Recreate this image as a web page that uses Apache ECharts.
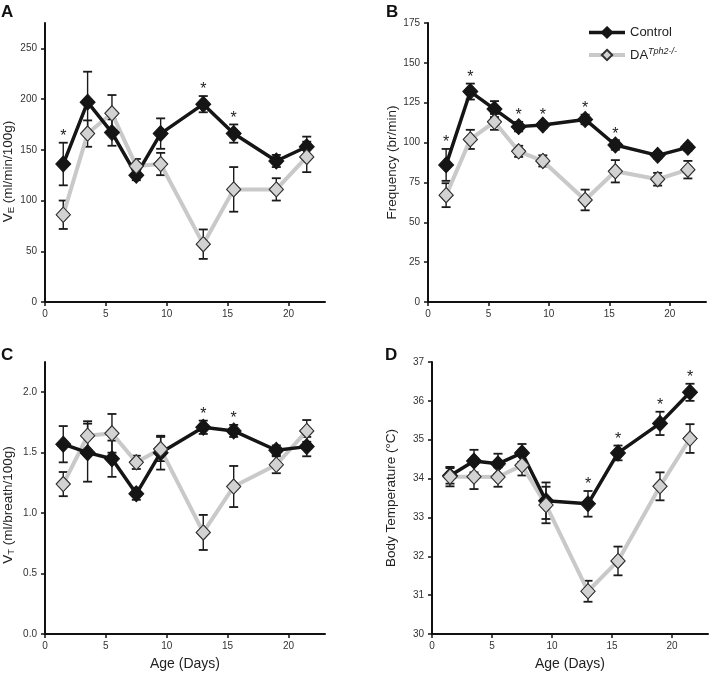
<!DOCTYPE html>
<html><head><meta charset="utf-8">
<script src="https://cdn.jsdelivr.net/npm/echarts@6/dist/echarts.min.js"></script>
<style>html,body{margin:0;padding:0;background:#fff}#c{width:710px;height:676px}</style>
</head><body><div id="c"></div><script>
const days = [1.5, 3.5, 5.5, 7.5, 9.5, 13, 15.5, 19, 21.5];
const xTicks = [0, 5, 10, 15, 20];

// A: minute ventilation
const veCtrl = [136, 197, 167, 125, 166, 195, 166, 139, 153];
const veCtrlSE = [21, 30, 13, 5, 15, 8, 9, 6, 10];
const veKO = [86, 166, 186, 134, 136, 57, 111, 111, 143];
const veKOSE = [14, 13, 18, 7, 11, 14.5, 22, 11, 15];
const veSig = [1, 0, 0, 0, 0, 1, 1, 0, 0];
const veTicks = [0, 50, 100, 150, 200, 250];

// B: frequency
const fCtrl = [86, 132, 121, 110, 111, 114.5, 98.5, 92, 97];
const fCtrlSE = [10, 5, 5, 3, 2, 3, 3, 2, 2];
const fKO = [67, 102, 113, 94.5, 88.5, 64, 82, 77, 83];
const fKOSE = [7.5, 6, 5, 3.5, 3.5, 6.5, 7, 4, 5.5];
const fSig = [1, 1, 0, 1, 1, 1, 1, 0, 0];
const fTicks = [0, 25, 50, 75, 100, 125, 150, 175];

// C: tidal volume
const vtCtrl = [1.57, 1.50, 1.45, 1.16, 1.50, 1.71, 1.68, 1.52, 1.55];
const vtCtrlSE = [0.15, 0.24, 0.15, 0.05, 0.14, 0.055, 0.05, 0.04, 0.08];
const vtKO = [1.24, 1.64, 1.66, 1.42, 1.53, 0.84, 1.22, 1.40, 1.68];
const vtKOSE = [0.10, 0.12, 0.16, 0.055, 0.10, 0.145, 0.17, 0.07, 0.09];
const vtSig = [0, 0, 0, 0, 0, 1, 1, 0, 0];
const vtTicks = [0, 0.5, 1, 1.5, 2];

// D: body temperature
const tCtrl = [34.07, 34.45, 34.38, 34.66, 33.43, 33.35, 34.66, 35.42, 36.22];
const tCtrlSE = [0.2, 0.29, 0.26, 0.23, 0.47, 0.33, 0.19, 0.3, 0.22];
const tKO = [34.05, 34.05, 34.04, 34.34, 33.32, 31.10, 31.88, 33.80, 35.03];
const tKOSE = [0.25, 0.32, 0.25, 0.26, 0.47, 0.27, 0.37, 0.36, 0.37];
const tSig = [0, 0, 0, 0, 0, 1, 1, 1, 1];
const tTicks = [30, 31, 32, 33, 34, 35, 36, 37];

const FONT = '"Liberation Sans", Arial, Helvetica, sans-serif';
const nameRich = {
  m: {fontSize: 13.5, lineHeight: 16, fontFamily: FONT, color: '#222'},
  s: {fontSize: 9.5, lineHeight: 9, verticalAlign: 'bottom', fontFamily: FONT, color: '#222'}
};

const panels = [
  {grid: {left: 45, top: 23, width: 280, height: 279}, ymin: 0, ymax: 275, yTicks: veTicks, ctrl: veCtrl, ctrlSE: veCtrlSE, ko: veKO, koSE: veKOSE, sig: veSig,
   yName: '{m|V}{s|E}{m| (ml/min/100g)}', yGap: 29, yPad: [0, 18, 0, 0], xName: '', dec: 0},
  {grid: {left: 428, top: 23, width: 278, height: 279}, ymin: 0, ymax: 175, yTicks: fTicks, ctrl: fCtrl, ctrlSE: fCtrlSE, ko: fKO, koSE: fKOSE, sig: fSig,
   yName: '{m|Frequency (br/min)}', yGap: 28, yPad: [0, 0, 0, 0], xName: '', dec: 0},
  {grid: {left: 45, top: 362, width: 280, height: 272}, ymin: 0, ymax: 2.25, yTicks: vtTicks, ctrl: vtCtrl, ctrlSE: vtCtrlSE, ko: vtKO, koSE: vtKOSE, sig: vtSig,
   yName: '{m|V}{s|T}{m| (ml/breath/100g)}', yGap: 29, yPad: [0, 14, 0, 0], xName: 'Age (Days)', dec: 1},
  {grid: {left: 432, top: 362, width: 276, height: 272}, ymin: 30, ymax: 37, yTicks: tTicks, ctrl: tCtrl, ctrlSE: tCtrlSE, ko: tKO, koSE: tKOSE, sig: tSig,
   yName: '{m|Body Temperature (°C)}', yGap: 33, yPad: [0, 0, 0, 0], xName: 'Age (Days)', dec: 0}
];
const letters = ['A', 'B', 'C', 'D'];
const letterPos = [[1, 4], [386, 4], [1, 347], [385, 347]];

function errRender(withStar) {
  return function (params, api) {
    const x = api.value(0), lo = api.value(1), hi = api.value(2), sig = api.value(3);
    const pLo = api.coord([x, lo]), pHi = api.coord([x, hi]);
    const cap = 4.5;
    const st = {stroke: '#1a1a1a', lineWidth: 1.4};
    const children = [
      {type: 'line', shape: {x1: pLo[0], y1: pLo[1], x2: pHi[0], y2: pHi[1]}, style: st},
      {type: 'line', shape: {x1: pHi[0] - cap, y1: pHi[1], x2: pHi[0] + cap, y2: pHi[1]}, style: {stroke: '#1a1a1a', lineWidth: 1.8}},
      {type: 'line', shape: {x1: pLo[0] - cap, y1: pLo[1], x2: pLo[0] + cap, y2: pLo[1]}, style: {stroke: '#1a1a1a', lineWidth: 1.8}}
    ];
    if (withStar && sig) {
      children.push({type: 'text', x: pHi[0], y: pHi[1] + 2,
        style: {text: '*', textAlign: 'center', textVerticalAlign: 'bottom', fontSize: 16, fontFamily: FONT, fill: '#222'}});
    }
    return {type: 'group', children};
  };
}

const grid = [], xAxis = [], yAxis = [], series = [];
panels.forEach((p, i) => {
  grid.push(p.grid);
  xAxis.push({
    type: 'value', gridIndex: i, min: 0, max: 23,
    name: p.xName, nameLocation: 'middle', nameGap: 23,
    nameTextStyle: {fontSize: 14, fontFamily: FONT, color: '#222'},
    axisLine: {lineStyle: {color: '#111', width: 2}},
    axisTick: {customValues: xTicks, length: 4, lineStyle: {color: '#111', width: 1.5}},
    axisLabel: {customValues: xTicks, fontSize: 10, fontFamily: FONT, color: '#333', margin: 7},
    splitLine: {show: false}
  });
  yAxis.push({
    type: 'value', gridIndex: i, min: p.ymin, max: p.ymax,
    name: p.yName, nameLocation: 'middle', nameGap: p.yGap, nameRotate: 90,
    nameTextStyle: {rich: nameRich, padding: p.yPad},
    axisLine: {onZero: false, lineStyle: {color: '#111', width: 2}},
    axisTick: {customValues: p.yTicks, length: 4, lineStyle: {color: '#111', width: 1.5}},
    axisLabel: {customValues: p.yTicks, fontSize: 10, fontFamily: FONT, color: '#333', margin: 8,
      formatter: v => v.toFixed(p.dec)},
    splitLine: {show: false}
  });
  const koErr = days.map((d, k) => [d, p.ko[k] - p.koSE[k], p.ko[k] + p.koSE[k], 0]);
  const ctErr = days.map((d, k) => [d, p.ctrl[k] - p.ctrlSE[k], p.ctrl[k] + p.ctrlSE[k], p.sig[k]]);
  series.push({type: 'custom', name: 'errKO' + i, xAxisIndex: i, yAxisIndex: i, z: 1,
    renderItem: errRender(false), data: koErr, encode: {x: 0, y: [1, 2]}, silent: true});
  series.push({type: 'custom', name: 'errCtrl' + i, xAxisIndex: i, yAxisIndex: i, z: 1,
    renderItem: errRender(true), data: ctErr, encode: {x: 0, y: [1, 2]}, silent: true});
  series.push({type: 'line', name: 'DA', xAxisIndex: i, yAxisIndex: i, z: 2,
    data: days.map((d, k) => [d, p.ko[k]]), symbol: 'diamond', symbolSize: [14, 15],
    lineStyle: {color: '#c9c9c9', width: 4}, itemStyle: {color: '#d2d2d2', borderColor: '#333', borderWidth: 1},
    animation: false});
  series.push({type: 'line', name: 'Control', xAxisIndex: i, yAxisIndex: i, z: 3,
    data: days.map((d, k) => [d, p.ctrl[k]]), symbol: 'diamond', symbolSize: [15, 16],
    lineStyle: {color: '#151515', width: 3.5}, itemStyle: {color: '#151515', borderColor: '#151515', borderWidth: 1},
    animation: false});
  series.push({type: 'scatter', name: 'DAmarkers' + i, xAxisIndex: i, yAxisIndex: i, z: 4,
    data: days.map((d, k) => [d, p.ko[k]]), symbol: 'diamond', symbolSize: [14, 15],
    itemStyle: {color: '#d2d2d2', borderColor: '#333', borderWidth: 1, opacity: 1}, animation: false});
});

const graphic = letters.map((l, i) => ({
  type: 'text', left: letterPos[i][0], top: letterPos[i][1],
  style: {text: l, fontSize: 17, fontWeight: 'bold', fontFamily: FONT, fill: '#111'}
}));

const chart = echarts.init(document.getElementById('c'));
chart.setOption({
  animation: false,
  backgroundColor: '#fff',
  grid, xAxis, yAxis, series, graphic,
  legend: {
    data: [
      {name: 'Control', lineStyle: {width: 3.5, color: '#151515'}},
      {name: 'DA', lineStyle: {width: 4, color: '#c9c9c9'}}
    ],
    orient: 'vertical', left: 582, top: 21, itemWidth: 36, itemHeight: 13, itemGap: 8,
    selectedMode: false,
    formatter: n => n === 'Control' ? '{b|Control}' : '{b|DA}{s|Tph2-/-}',
    textStyle: {rich: {
      b: {fontSize: 13, lineHeight: 16, fontFamily: FONT, color: '#222'},
      s: {fontSize: 9, lineHeight: 10, verticalAlign: 'top', fontStyle: 'italic', fontFamily: FONT, color: '#222'}
    }}
  }
});
</script></body></html>
